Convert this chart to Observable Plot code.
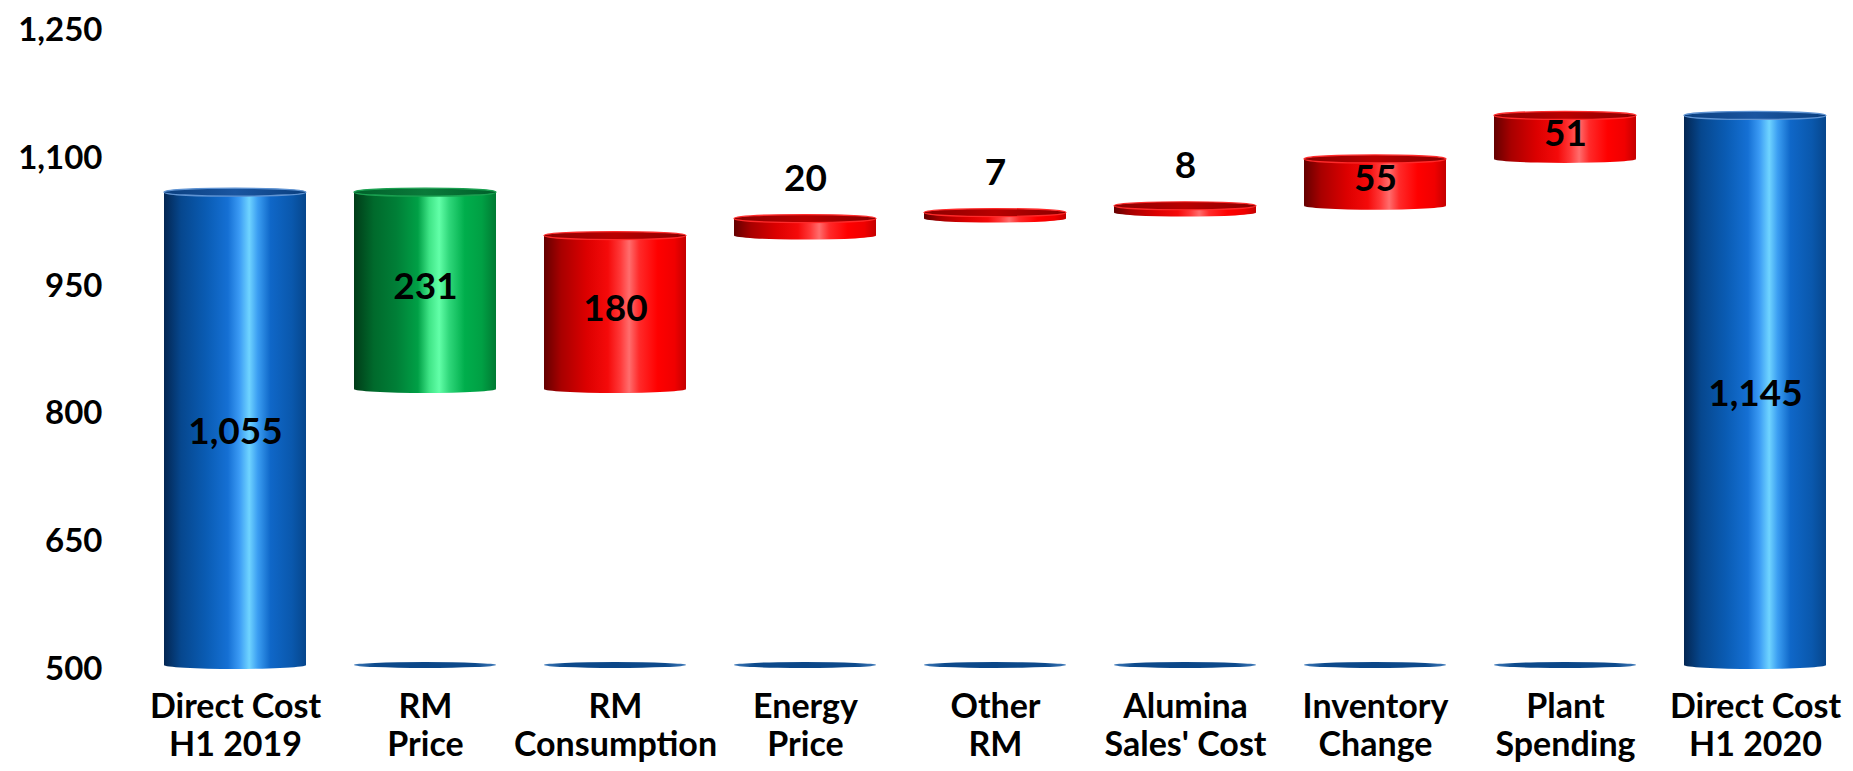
<!DOCTYPE html>
<html>
<head>
<meta charset="utf-8">
<script src="https://cdn.jsdelivr.net/npm/d3@7"></script>
<script src="https://cdn.jsdelivr.net/npm/@observablehq/plot@0.6"></script>
<style>
  html, body { margin: 0; padding: 0; background: #fff; }
  #chart svg { display: block; }
</style>
</head>
<body>
<div id="chart"></div>
<script>
// ---- data ----
const categories = ["Direct Cost\nH1 2019", "RM\nPrice", "RM\nConsumption", "Energy\nPrice", "Other\nRM", "Alumina\nSales' Cost", "Inventory\nChange", "Plant\nSpending", "Direct Cost\nH1 2020"];
const changes = [1055, -231, 180, 20, 7, 8, 55, 51, 1145];
const kinds = ["total", "decrease", "increase", "increase", "increase", "increase", "increase", "increase", "total"];
const labelInside = [true, true, true, false, false, false, true, true, true];
const yTicks = [500, 650, 800, 950, 1100, 1250];
const yDomain = [500, 1250];

// ---- waterfall table built from the arrays ----
let running = 0;
const rows = categories.map((cat, i) => {
  let lo, hi;
  if (kinds[i] === "total") {
    lo = yDomain[0]; hi = changes[i]; running = changes[i];
  } else {
    const next = running + changes[i];
    lo = Math.min(running, next); hi = Math.max(running, next); running = next;
  }
  return {cat, kind: kinds[i], lo, hi, label: d3.format(",")(Math.abs(changes[i])), inside: labelInside[i]};
});
const ghosts = rows.filter(d => d.kind !== "total");

const fillOf = {total: "url(#gBlue)", decrease: "url(#gGreen)", increase: "url(#gRed)"};
const topOf = {total: "url(#tBlue)", decrease: "url(#tGreen)", increase: "url(#tRed)"};
const rimOf = {total: "#5f93d2", decrease: "#1aa050", increase: "#ff2a2a"};

const marks = [
  // flat baseline discs for the floating columns
  Plot.barY(ghosts, {x: "cat", y1: yDomain[0], y2: yDomain[0], insetTop: -3, insetBottom: -3, rx: 1000, ry: 3, fill: "url(#gGhost)"})
];
for (const k of ["total", "decrease", "increase"]) {
  const f = d => d.kind === k;
  marks.push(
    Plot.barY(rows, {filter: f, x: "cat", y1: "lo", y2: "lo", insetTop: -4, insetBottom: -4, rx: 1000, ry: 4, fill: fillOf[k]}),
    Plot.barY(rows, {filter: f, x: "cat", y1: "lo", y2: "hi", fill: fillOf[k]}),
    Plot.barY(rows, {filter: f, x: "cat", y1: "hi", y2: "hi", insetTop: -4, insetBottom: -4, rx: 1000, ry: 4, fill: topOf[k], stroke: rimOf[k], strokeWidth: 1.2})
  );
}
marks.push(
  // value labels
  Plot.text(rows.filter(d => d.inside && d.kind === "total"), {x: "cat", y: d => (d.lo + d.hi) / 2, text: "label", dy: 3, fontSize: 37, fontWeight: "bold", fill: "#000"}),
  Plot.text(rows.filter(d => d.inside && d.kind !== "total"), {x: "cat", y: d => (d.lo + d.hi) / 2, text: "label", dy: -4, fontSize: 37, fontWeight: "bold", fill: "#000"}),
  Plot.text(rows.filter(d => !d.inside), {x: "cat", y: "hi", text: "label", dy: -40, fontSize: 37, fontWeight: "bold", fill: "#000"}),
  // y tick labels
  Plot.text(yTicks, {y: d => d, text: d => d3.format(",")(d), frameAnchor: "left", textAnchor: "end", dx: -35, dy: 4, fontSize: 33, fontWeight: "bold", fill: "#000"}),
  // category labels
  Plot.text(categories, {x: d => d, text: d => d, frameAnchor: "bottom", lineAnchor: "middle", dy: 59, lineHeight: 1.12, fontSize: 34, fontWeight: "bold", fill: "#000"})
);

const chart = Plot.plot({
  width: 1853,
  height: 771,
  marginLeft: 137,
  marginRight: 0,
  marginTop: 26,
  marginBottom: 106,
  x: {domain: categories, paddingInner: 0.255, paddingOuter: 0.131, axis: null},
  y: {domain: yDomain, axis: null},
  style: {fontFamily: "Lato, 'Open Sans', sans-serif", fontWeight: "bold", background: "#fff", overflow: "visible"},
  marks
});

// gradient definitions for the cylinder look
const defs = d3.select(chart).insert("defs", ":first-child");
function grad(id, stops) {
  const g = defs.append("linearGradient").attr("id", id).attr("x1", 0).attr("x2", 1).attr("y1", 0).attr("y2", 0);
  stops.forEach(([o, c]) => g.append("stop").attr("offset", o).attr("stop-color", c));
}
grad("gBlue", [[0, "#032652"], [0.12, "#06478e"], [0.3, "#0a5cb4"], [0.45, "#1570d4"], [0.53, "#3a9af4"], [0.6, "#6fd4ff"], [0.66, "#3b9ef2"], [0.75, "#0f67c8"], [0.9, "#0a58ad"], [1, "#06468c"]]);
grad("gGreen", [[0, "#003c18"], [0.14, "#006a2c"], [0.3, "#007f37"], [0.45, "#00a046"], [0.53, "#3fe486"], [0.6, "#62ffa8"], [0.67, "#2fd77a"], [0.78, "#00ae4c"], [0.9, "#00a044"], [1, "#007a32"]]);
grad("gRed", [[0, "#640000"], [0.12, "#a80000"], [0.3, "#dc0000"], [0.45, "#f50a0a"], [0.54, "#ff3a3a"], [0.6, "#ff6d6d"], [0.67, "#ff2a2a"], [0.8, "#ff0000"], [0.92, "#f00000"], [1, "#c40000"]]);
grad("gGhost", [[0, "#3f79b8"], [0.15, "#0d4a8c"], [0.5, "#0b4788"], [0.85, "#0d4a8c"], [1, "#3f79b8"]]);
grad("tBlue", [[0, "#0a3f7f"], [0.5, "#1a55a0"], [1, "#0a3f7f"]]);
grad("tGreen", [[0, "#00602a"], [0.5, "#0a7a3a"], [1, "#00602a"]]);
grad("tRed", [[0, "#8a0000"], [0.5, "#b80000"], [1, "#8a0000"]]);

document.getElementById("chart").appendChild(chart);
</script>
</body>
</html>
